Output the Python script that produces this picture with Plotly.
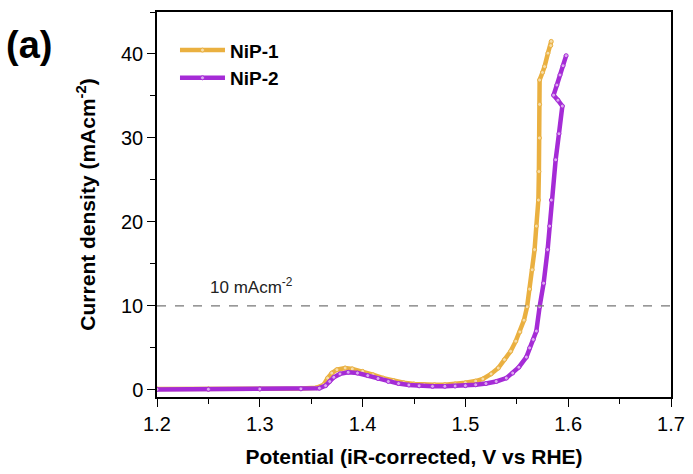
import plotly.graph_objects as go

# NiP-1 (orange)
nip1_x = [1.200, 1.250, 1.300, 1.340, 1.355, 1.362, 1.366, 1.370, 1.375, 1.383, 1.390, 1.400,
          1.410, 1.420, 1.430, 1.440, 1.450, 1.460, 1.470, 1.480, 1.490, 1.500, 1.510, 1.517,
          1.525, 1.532, 1.538, 1.544, 1.549, 1.553, 1.557, 1.560, 1.5625, 1.565, 1.5673, 1.569,
          1.571, 1.5715, 1.572, 1.5722, 1.5722, 1.575, 1.577, 1.5803, 1.583, 1.5835]
nip1_y = [0.10, 0.10, 0.12, 0.15, 0.25, 0.6, 1.4, 2.0, 2.4, 2.6, 2.5, 2.2,
          1.8, 1.4, 1.1, 0.85, 0.7, 0.62, 0.6, 0.62, 0.7, 0.85, 1.05, 1.3,
          1.9, 2.6, 3.6, 4.6, 5.8, 6.9, 8.3, 9.9, 12.0, 14.3, 16.7, 19.5,
          22.6, 26.0, 30.0, 34.0, 36.9, 37.8, 38.5, 40.1, 41.0, 41.5]

# NiP-2 (purple)
nip2_x = [1.200, 1.250, 1.300, 1.340, 1.358, 1.364, 1.368, 1.372, 1.378, 1.386, 1.395, 1.405,
          1.415, 1.425, 1.435, 1.445, 1.455, 1.468, 1.480, 1.490, 1.500, 1.510, 1.520, 1.530,
          1.5398, 1.546, 1.552, 1.5593, 1.5625, 1.566, 1.569, 1.5722, 1.5761, 1.580, 1.582,
          1.5836, 1.5878, 1.591, 1.5943, 1.590, 1.5858, 1.589, 1.592, 1.595, 1.598]
nip2_y = [0.05, 0.07, 0.10, 0.12, 0.2, 0.5, 1.0, 1.5, 1.9, 2.1, 2.0, 1.7,
          1.35, 1.0, 0.75, 0.58, 0.48, 0.42, 0.42, 0.45, 0.5, 0.6, 0.75, 1.0,
          1.4, 2.0, 2.7, 3.9, 5.0, 6.0, 7.0, 9.9, 12.7, 16.7, 19.5,
          22.6, 27.4, 30.5, 33.8, 34.5, 35.1, 36.3, 37.5, 38.6, 39.8]

ref_level = 10
x_range = [1.2, 1.7]
y_range = [-0.85, 45]

orange = "#EAB040"
purple = "#A52BD6"
orange_fill = "#F6DCA6"
purple_fill = "#DCA8F0"

FONT = "Liberation Sans, Arial"

fig = go.Figure()
for name, xs, ys, c, fc in [("NiP-1", nip1_x, nip1_y, orange, orange_fill),
                            ("NiP-2", nip2_x, nip2_y, purple, purple_fill)]:
    fig.add_trace(go.Scatter(
        x=xs, y=ys, name="<b>" + name + "</b>", mode="lines+markers",
        line=dict(color=c, width=4.5),
        marker=dict(symbol="circle", size=4, color=fc, line=dict(color=c, width=1)),
    ))

fig.add_shape(type="line", xref="x", yref="y", x0=x_range[0], x1=x_range[1], y0=ref_level, y1=ref_level,
              line=dict(color="#777777", width=1.3, dash="dash"))

fig.add_annotation(x=1.25, y=12.4, xref="x", yref="y", text="10 mAcm<sup>-2</sup>",
                   showarrow=False, xanchor="left", yanchor="middle",
                   font=dict(family=FONT, size=17, color="#222222"))

fig.add_annotation(x=-0.298, y=0.915, xref="x domain", yref="y domain", text="<b>(a)</b>",
                   showarrow=False, xanchor="left", yanchor="middle",
                   font=dict(family=FONT, size=38, color="black"))

axis_common = dict(
    showline=True, linecolor="black", linewidth=1.5, mirror=True,
    ticks="outside", ticklen=8, tickwidth=1.2, tickcolor="black",
    showgrid=False, zeroline=False, automargin=False,
    tickfont=dict(family=FONT, size=20, color="black"),
)

fig.update_xaxes(range=x_range, dtick=0.1, tick0=1.2,
                 minor=dict(ticks="outside", ticklen=5, dtick=0.05, tickcolor="black", tickwidth=1.2),
                 title=dict(text="<b>Potential (iR-corrected, V vs RHE)</b>",
                            font=dict(family=FONT, size=21, color="black"), standoff=16),
                 **axis_common)
fig.update_yaxes(range=y_range, dtick=10, tick0=0,
                 minor=dict(ticks="outside", ticklen=5, dtick=5, tickcolor="black", tickwidth=1.2),
                 title=dict(text="<b>Current density (mAcm<sup>-2</sup>)</b>",
                            font=dict(family=FONT, size=21, color="black"), standoff=20),
                 **axis_common)

fig.update_layout(
    width=693, height=474,
    margin=dict(l=157, r=22, t=12, b=77),
    paper_bgcolor="white", plot_bgcolor="white",
    legend=dict(x=0.035, y=0.95, xanchor="left", yanchor="top", bgcolor="rgba(0,0,0,0)",
                font=dict(family=FONT, size=19, color="black"),
                itemwidth=45, tracegroupgap=0),
    showlegend=True,
)

fig.write_html("out.html")
